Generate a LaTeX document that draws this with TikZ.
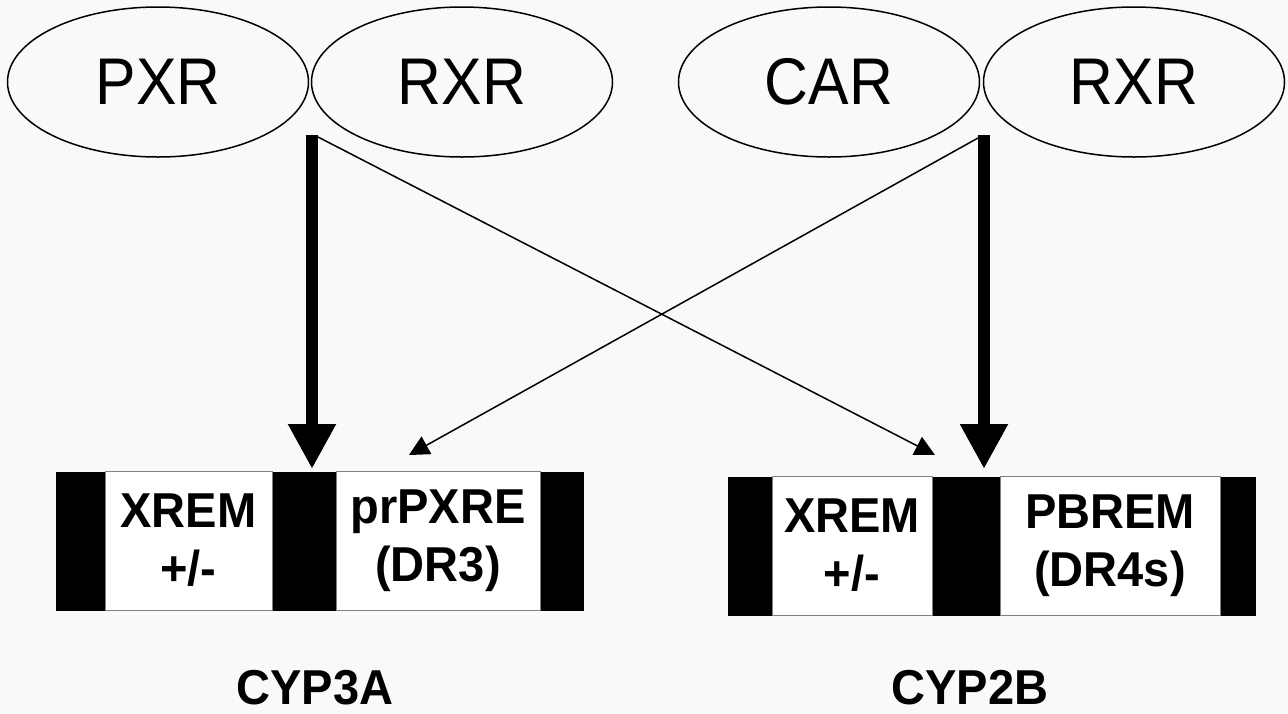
\documentclass[tikz,border=0pt]{standalone}
\usepackage{fontspec}
\setmainfont{Liberation Sans}
\newfontfamily\ellfont[FakeStretch=0.92]{Liberation Sans}
\newfontfamily\boxfont[FakeStretch=0.96]{Liberation Sans}
\usetikzlibrary{shapes.geometric,arrows.meta}
\definecolor{bg}{HTML}{F9F9F9}
\definecolor{boxedge}{HTML}{808080}
\tikzset{
  recep/.style={draw=black, line width=1.5pt, ellipse, minimum width=301pt, minimum height=150pt, inner sep=0pt, font=\ellfont\fontsize{66}{66}\selectfont},
  barbox/.style={fill=black, draw=none, inner sep=0pt, minimum height=139pt},
  elem/.style={fill=white, draw=boxedge, line width=1pt, inner sep=0pt, minimum height=139pt, align=center, font=\boxfont\bfseries\fontsize{49}{58}\selectfont},
  genelabel/.style={inner sep=0pt, anchor=base, font=\boxfont\bfseries\fontsize{49}{58}\selectfont},
  thickarrow/.style={line width=12pt, -{Triangle[length=45pt,width=45pt]}},
  thinarrow/.style={line width=1.5pt, -{Triangle[length=20pt,width=20pt]}}
}
\begin{document}
\begin{tikzpicture}[x=1pt,y=-1pt]
\fill[bg] (0,0) rectangle (1288,713);
\useasboundingbox (0,0) rectangle (1288,713);
% receptors
\node[recep] (pxr) at (158,82) {PXR};
\node[recep] (rxr1) at (462,82) {RXR};
\node[recep] (car) at (829,82) {CAR};
\node[recep] (rxr2) at (1134,82) {RXR};
% promoter bars
\node[barbox, minimum width=528pt] (bar1) at (320,541.5) {};
\node[barbox, minimum width=528pt] (bar2) at (992,546.5) {};
\node[elem, minimum width=167pt] (xrem1) at (188.5,540.5) {XREM\\+/-};
\node[elem, minimum width=204pt] (prpxre) at (438,540.5) {prPXRE\\(DR3)};
\node[elem, minimum width=160pt] (xrem2) at (852,545.5) {XREM\\+/-};
\node[elem, minimum width=220pt] (pbrem) at (1110,545.5) {PBREM\\(DR4s)};
% gene labels
\node[genelabel] (cyp3a) at (315,704) {CYP3A};
\node[genelabel] (cyp2b) at (970,704) {CYP2B};
% connector endpoints
\coordinate (s1) at (312,135);
\coordinate (s1t) at (318,137);
\coordinate (s2) at (984,135);
\coordinate (s2t) at (978,138);
\coordinate (t1) at (312,469);
\coordinate (t2) at (984,469);
\coordinate (t1t) at (409,455);
\coordinate (t2t) at (935,455);
% arrows
\draw[thickarrow] (s1) -- (t1);
\draw[thickarrow] (s2) -- (t2);
\draw[thinarrow] (s1t) -- (t2t);
\draw[thinarrow] (s2t) -- (t1t);
\end{tikzpicture}
\end{document}
